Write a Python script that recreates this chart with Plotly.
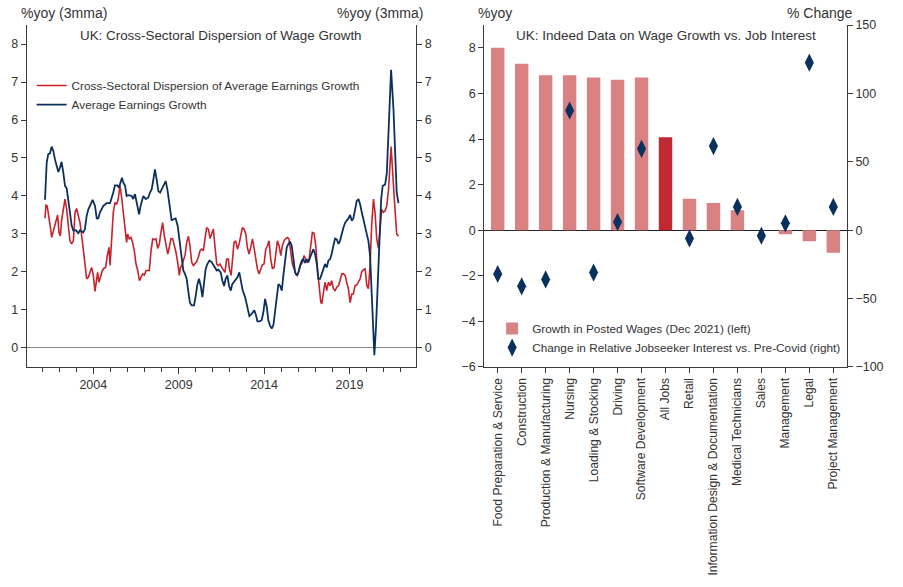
import plotly.graph_objects as go

# --- left panel: UK wage growth (decimal years, %yoy 3mma) ---
disp_years = [2001.17, 2001.23, 2001.30, 2001.40, 2001.50, 2001.56, 2001.66, 2001.75, 2001.85, 2001.91,
              2001.99, 2002.07, 2002.14, 2002.24, 2002.34, 2002.44, 2002.54, 2002.63, 2002.73, 2002.83,
              2002.93, 2003.02, 2003.12, 2003.22, 2003.32, 2003.41, 2003.51, 2003.61, 2003.71, 2003.80,
              2003.90, 2004.00, 2004.10, 2004.20, 2004.25, 2004.33, 2004.43, 2004.53, 2004.63, 2004.72,
              2004.82, 2004.92, 2004.98, 2005.07, 2005.17, 2005.27, 2005.37, 2005.46, 2005.56, 2005.66,
              2005.76, 2005.86, 2005.95, 2006.01, 2006.11, 2006.21, 2006.30, 2006.40, 2006.50, 2006.60,
              2006.70, 2006.79, 2006.89, 2006.99, 2007.09, 2007.18, 2007.28, 2007.38, 2007.48, 2007.57,
              2007.67, 2007.77, 2007.87, 2007.96, 2008.06, 2008.16, 2008.26, 2008.36, 2008.45, 2008.55,
              2008.65, 2008.75, 2008.84, 2008.94, 2009.04, 2009.10, 2009.20, 2009.27, 2009.37, 2009.47,
              2009.57, 2009.66, 2009.76, 2009.86, 2009.96, 2010.05, 2010.15, 2010.25, 2010.35, 2010.45,
              2010.54, 2010.64, 2010.74, 2010.84, 2010.93, 2011.03, 2011.13, 2011.23, 2011.32, 2011.42,
              2011.52, 2011.62, 2011.71, 2011.81, 2011.91, 2011.97, 2012.07, 2012.14, 2012.24, 2012.34,
              2012.44, 2012.54, 2012.63, 2012.73, 2012.83, 2012.93, 2013.02, 2013.12, 2013.22, 2013.32,
              2013.41, 2013.51, 2013.61, 2013.71, 2013.80, 2013.90, 2014.00, 2014.10, 2014.20, 2014.29,
              2014.39, 2014.49, 2014.59, 2014.68, 2014.78, 2014.88, 2014.98, 2015.07, 2015.17, 2015.27,
              2015.37, 2015.46, 2015.56, 2015.66, 2015.76, 2015.86, 2015.95, 2016.05, 2016.15, 2016.25,
              2016.34, 2016.44, 2016.54, 2016.64, 2016.73, 2016.83, 2016.93, 2017.03, 2017.13, 2017.22,
              2017.32, 2017.38, 2017.48, 2017.57, 2017.67, 2017.77, 2017.87, 2017.96, 2018.06, 2018.16,
              2018.26, 2018.36, 2018.45, 2018.55, 2018.65, 2018.75, 2018.84, 2018.94, 2019.04, 2019.14,
              2019.23, 2019.33, 2019.43, 2019.53, 2019.63, 2019.72, 2019.82, 2019.92, 2020.02, 2020.11,
              2020.21, 2020.31, 2020.41, 2020.50, 2020.60, 2020.70, 2020.80, 2020.89, 2020.99, 2021.09,
              2021.19, 2021.29, 2021.44, 2021.58, 2021.68, 2021.77, 2021.87]
disp_vals = [3.41, 3.76, 3.74, 3.48, 3.13, 2.91, 3.09, 3.26, 3.41, 3.50,
             3.04, 2.95, 3.35, 3.61, 3.92, 3.65, 3.13, 2.82, 2.74, 2.82,
             3.57, 3.67, 3.48, 3.30, 2.95, 2.60, 2.17, 1.82, 1.86, 1.99,
             2.12, 1.91, 1.49, 1.82, 1.99, 1.73, 1.86, 2.04, 2.10, 2.12,
             2.43, 2.65, 2.17, 2.78, 3.57, 3.83, 3.78, 3.92, 4.27, 3.96,
             3.57, 3.09, 2.78, 3.00, 2.87, 2.91, 2.78, 2.56, 2.21, 2.04,
             1.77, 1.86, 1.95, 1.92, 2.04, 2.04, 2.04, 2.56, 2.87, 2.85,
             2.87, 2.62, 2.74, 3.04, 3.30, 2.95, 2.65, 2.47, 2.65, 2.88,
             2.87, 2.69, 2.52, 2.26, 1.91, 2.12, 2.17, 2.30, 2.43, 2.78,
             2.94, 2.69, 2.26, 2.17, 2.21, 2.27, 2.39, 2.56, 2.60, 2.56,
             2.87, 3.17, 3.13, 2.88, 3.00, 3.13, 2.65, 2.21, 2.17, 2.21,
             2.12, 2.04, 1.99, 2.34, 2.34, 2.08, 1.91, 2.26, 2.78, 2.82,
             2.60, 2.74, 3.00, 3.17, 3.13, 3.00, 2.65, 2.47, 2.65, 2.87,
             2.65, 2.34, 2.08, 1.95, 2.08, 2.19, 2.21, 2.60, 2.69, 2.82,
             2.34, 2.08, 2.12, 2.50, 2.82, 2.69, 2.43, 2.69, 2.82, 2.88,
             2.91, 2.87, 2.60, 2.21, 2.08, 1.95, 1.91, 2.08, 2.19, 2.26,
             2.43, 2.34, 2.24, 2.34, 2.69, 3.04, 3.02, 2.69, 2.08, 1.56,
             1.21, 1.16, 1.42, 1.73, 1.51, 1.73, 1.64, 1.77, 1.56, 1.51,
             1.60, 1.64, 1.77, 1.95, 1.95, 1.91, 1.73, 1.56, 1.19, 1.42,
             1.42, 1.64, 1.66, 1.73, 1.82, 2.01, 2.06, 2.08, 1.64, 1.56,
             2.17, 3.30, 3.92, 3.57, 2.87, 2.62, 3.22, 3.65, 3.57, 3.61,
             3.74, 4.18, 5.30, 4.44, 3.57, 3.00, 2.94]

awe_years = [2001.17, 2001.27, 2001.36, 2001.46, 2001.56, 2001.66, 2001.75, 2001.85, 2001.95, 2002.05,
             2002.14, 2002.24, 2002.34, 2002.44, 2002.54, 2002.63, 2002.73, 2002.83, 2002.98, 2003.12,
             2003.22, 2003.41, 2003.51, 2003.61, 2003.71, 2003.84, 2003.96, 2004.10, 2004.20, 2004.29,
             2004.39, 2004.59, 2004.78, 2004.98, 2005.07, 2005.17, 2005.27, 2005.41, 2005.50, 2005.60,
             2005.68, 2005.76, 2005.86, 2005.95, 2006.05, 2006.25, 2006.34, 2006.44, 2006.54, 2006.68,
             2006.77, 2006.93, 2007.07, 2007.22, 2007.32, 2007.42, 2007.52, 2007.61, 2007.71, 2007.81,
             2007.91, 2008.00, 2008.10, 2008.24, 2008.34, 2008.39, 2008.49, 2008.59, 2008.69, 2008.82,
             2008.94, 2009.08, 2009.18, 2009.27, 2009.37, 2009.47, 2009.57, 2009.66, 2009.76, 2009.90,
             2010.00, 2010.09, 2010.19, 2010.29, 2010.39, 2010.48, 2010.58, 2010.68, 2010.80, 2010.93,
             2011.07, 2011.23, 2011.32, 2011.46, 2011.56, 2011.66, 2011.75, 2011.85, 2011.95, 2012.05,
             2012.14, 2012.30, 2012.44, 2012.55, 2012.63, 2012.75, 2012.89, 2013.02, 2013.14, 2013.22,
             2013.34, 2013.43, 2013.53, 2013.61, 2013.73, 2013.86, 2013.96, 2014.06, 2014.16, 2014.25,
             2014.35, 2014.45, 2014.55, 2014.64, 2014.74, 2014.84, 2014.94, 2015.04, 2015.13, 2015.23,
             2015.33, 2015.43, 2015.52, 2015.62, 2015.72, 2015.82, 2015.91, 2016.01, 2016.11, 2016.21,
             2016.30, 2016.40, 2016.50, 2016.60, 2016.70, 2016.79, 2016.89, 2016.99, 2017.09, 2017.18,
             2017.28, 2017.38, 2017.48, 2017.57, 2017.67, 2017.77, 2017.87, 2017.96, 2018.06, 2018.16,
             2018.26, 2018.36, 2018.45, 2018.55, 2018.65, 2018.75, 2018.84, 2018.94, 2019.04, 2019.14,
             2019.23, 2019.33, 2019.43, 2019.53, 2019.63, 2019.72, 2019.82, 2019.92, 2020.02, 2020.11,
             2020.21, 2020.31, 2020.41, 2020.46, 2020.56, 2020.66, 2020.76, 2020.86, 2020.95, 2021.09,
             2021.19, 2021.29, 2021.44, 2021.58, 2021.68, 2021.77, 2021.87]
awe_vals = [3.90, 4.88, 5.10, 5.12, 5.30, 5.18, 4.97, 4.80, 4.63, 4.75,
            4.90, 4.62, 4.27, 4.20, 3.92, 3.57, 3.22, 3.09, 3.10, 3.02,
            3.10, 3.04, 3.13, 3.48, 3.65, 3.78, 3.90, 3.74, 3.41, 3.41,
            3.57, 3.74, 3.81, 3.81, 3.92, 4.09, 4.28, 4.28, 4.22, 4.40,
            4.48, 4.35, 4.27, 4.00, 4.02, 4.00, 3.92, 4.05, 3.83, 3.52,
            3.74, 4.00, 3.92, 3.96, 4.09, 4.18, 4.44, 4.70, 4.44, 4.13,
            4.09, 4.17, 4.26, 4.39, 4.17, 4.00, 3.57, 3.35, 3.39, 3.41,
            3.22, 2.74, 2.34, 2.04, 1.95, 1.82, 1.47, 1.19, 1.12, 1.12,
            1.38, 1.66, 1.82, 1.64, 1.34, 1.68, 2.08, 2.21, 2.30, 2.26,
            2.15, 2.04, 2.06, 1.99, 1.77, 1.63, 1.82, 1.91, 1.64, 1.51,
            1.68, 1.77, 1.86, 1.99, 1.82, 1.51, 1.34, 1.12, 0.84, 0.87,
            0.94, 0.99, 0.86, 0.70, 0.70, 0.73, 0.94, 1.29, 1.08, 0.73,
            0.59, 0.51, 0.61, 0.94, 1.38, 1.68, 1.64, 1.51, 1.91, 2.34,
            2.65, 2.74, 2.80, 2.69, 2.30, 1.99, 1.91, 1.98, 2.17, 2.30,
            2.34, 2.24, 2.34, 2.26, 2.39, 2.47, 2.60, 2.47, 2.21, 1.82,
            1.82, 1.95, 2.12, 2.21, 2.12, 2.30, 2.34, 2.47, 2.69, 2.88,
            2.86, 2.74, 2.82, 3.04, 3.17, 3.30, 3.35, 3.41, 3.50, 3.35,
            3.41, 3.61, 3.87, 3.92, 3.78, 3.58, 3.35, 3.17, 2.99, 2.82,
            2.43, 1.38, 0.33, -0.19, 0.59, 1.82, 3.04, 3.92, 4.27, 4.30,
            4.60, 5.90, 7.32, 6.28, 5.05, 4.09, 3.81]

# --- right panel: Indeed data ---
occupations = ["Food Preparation & Service", "Construction", "Production & Manufacturing", "Nursing",
               "Loading & Stocking", "Driving", "Software Development", "All Jobs", "Retail",
               "Information Design & Documentation", "Medical Technicians", "Sales", "Management",
               "Legal", "Project Management"]
posted_wage_growth = [8.0, 7.3, 6.8, 6.8, 6.7, 6.6, 6.7, 4.08, 1.38, 1.19, 0.87, 0.0, -0.18, -0.48, -0.99]
jobseeker_interest = [-32, -41, -36, 87.5, -31, 6, 59.5, None, -6, 61.5, 17, -4, 5, 122.5, 17]

RED = "#c8232c"
NAVY = "#0b305e"
BAR = "#d98283"
BAR_DARK = "#c0292f"
AX = "#3a3a3a"
FONT = "Liberation Sans, Arial, sans-serif"

bar_colors = [BAR_DARK if o == "All Jobs" else BAR for o in occupations]

fig = go.Figure()

fig.add_trace(go.Scatter(x=disp_years, y=disp_vals, mode="lines",
                         name="Cross-Sectoral Dispersion of Average Earnings Growth",
                         line=dict(color=RED, width=1.6), xaxis="x", yaxis="y", legend="legend"))
fig.add_trace(go.Scatter(x=awe_years, y=awe_vals, mode="lines",
                         name="Average Earnings Growth",
                         line=dict(color=NAVY, width=1.8), xaxis="x", yaxis="y2", legend="legend"))

fig.add_trace(go.Bar(x=occupations, y=posted_wage_growth, name="Growth in Posted Wages (Dec 2021) (left)",
                     marker=dict(color=bar_colors, line=dict(width=0)), width=0.56,
                     xaxis="x2", yaxis="y3", legend="legend2"))
fig.add_trace(go.Scatter(x=occupations, y=jobseeker_interest, mode="markers",
                         name="Change in Relative Jobseeker Interest vs. Pre-Covid (right)",
                         marker=dict(symbol="diamond-tall", size=13, color=NAVY),
                         xaxis="x2", yaxis="y4", legend="legend2"))

tickfont = dict(family=FONT, size=12.5, color="#333333")
common_y = dict(showline=True, linecolor=AX, linewidth=1.3, ticks="outside", ticklen=5,
                tickcolor=AX, tickfont=tickfont, showgrid=False, automargin=False)

fig.update_layout(
    width=903, height=587,
    margin=dict(l=0, r=0, t=0, b=0, autoexpand=False),
    paper_bgcolor="white", plot_bgcolor="white",
    font=dict(family=FONT, size=12, color="#333333"),
    barmode="overlay",
    xaxis=dict(domain=[0.0296, 0.4607], range=[2000.1, 2022.9], showline=True, linecolor=AX,
               linewidth=1.3, ticks="outside", ticklen=6, tickcolor=AX, tick0=2004, dtick=5,
               tickfont=tickfont, showgrid=False, zeroline=False, automargin=False,
               minor=dict(dtick=1, tick0=2001, ticks="outside", ticklen=4, tickcolor=AX, showgrid=False),
               anchor="y"),
    yaxis=dict(domain=[0.3748, 0.9574], range=[-0.5, 8.5], dtick=1, anchor="x",
               zeroline=True, zerolinecolor="#888888", zerolinewidth=1, **common_y),
    yaxis2=dict(range=[-0.5, 8.5], dtick=1, overlaying="y", side="right", anchor="x",
                zeroline=False, **common_y),
    xaxis2=dict(domain=[0.5363, 0.9377], range=[-0.56, 14.56], showline=True, linecolor=AX,
                linewidth=1.3, ticks="outside", ticklen=5, tickcolor=AX, tickangle=-90,
                tickfont=dict(family=FONT, size=12.1, color="#333333"), showgrid=False,
                anchor="y3", automargin=False),
    yaxis3=dict(domain=[0.3748, 0.9574], range=[-6, 9], tickvals=[-6, -4, -2, 0, 2, 4, 6, 8],
                anchor="x2", zeroline=True, zerolinecolor="#222222", zerolinewidth=1.2, **common_y),
    yaxis4=dict(range=[-100, 150], dtick=50, overlaying="y3", side="right", anchor="x2",
                zeroline=False, **common_y),
    legend=dict(x=0.035, y=0.879, xanchor="left", yanchor="top", bgcolor="rgba(0,0,0,0)",
                font=dict(family=FONT, size=11.8, color="#333333"), tracegroupgap=0, itemwidth=30),
    legend2=dict(x=0.545, y=0.465, xanchor="left", yanchor="top", bgcolor="rgba(0,0,0,0)",
                 font=dict(family=FONT, size=11.8, color="#333333"), tracegroupgap=0),
    annotations=[
        dict(text="%yoy (3mma)", x=0.021, y=0.995, xref="paper", yref="paper", xanchor="left",
             yanchor="top", showarrow=False, font=dict(size=14)),
        dict(text="%yoy (3mma)", x=0.4705, y=0.995, xref="paper", yref="paper", xanchor="right",
             yanchor="top", showarrow=False, font=dict(size=14)),
        dict(text="UK: Cross-Sectoral Dispersion of Wage Growth", x=0.245, y=0.955, xref="paper",
             yref="paper", xanchor="center", yanchor="top", showarrow=False, font=dict(size=13.4)),
        dict(text="%yoy", x=0.527, y=0.995, xref="paper", yref="paper", xanchor="left",
             yanchor="top", showarrow=False, font=dict(size=14)),
        dict(text="% Change", x=0.947, y=0.995, xref="paper", yref="paper", xanchor="right",
             yanchor="top", showarrow=False, font=dict(size=14)),
        dict(text="UK: Indeed Data on Wage Growth vs. Job Interest", x=0.737, y=0.955, xref="paper",
             yref="paper", xanchor="center", yanchor="top", showarrow=False, font=dict(size=13.5)),
    ],
)

# the page body has a default 8px margin; drop it so the figure fills the window
fig.write_html("out.html", config={"displayModeBar": False},
               post_script="document.body.style.margin='0';")
